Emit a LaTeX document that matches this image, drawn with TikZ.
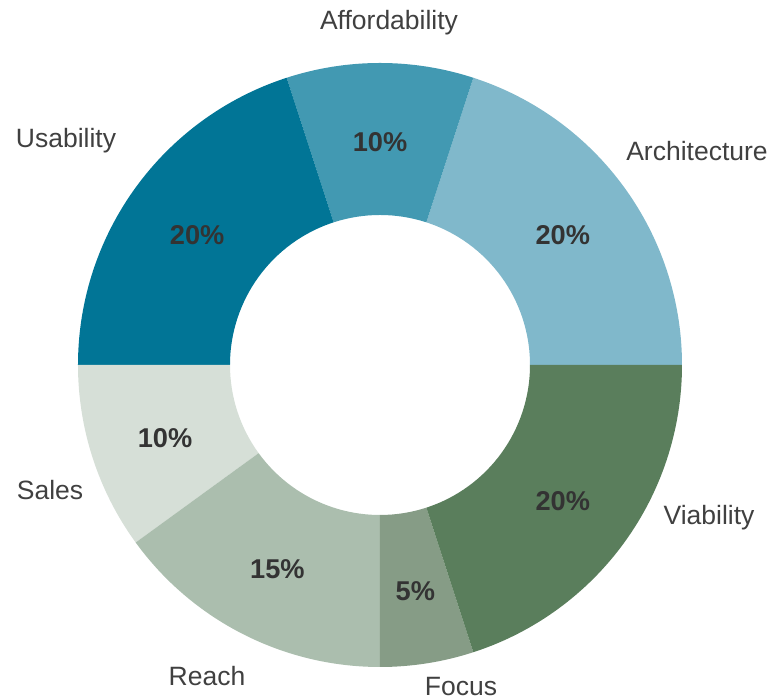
\documentclass[tikz,border=0pt]{standalone}
\usepackage{fontspec}
\setmainfont{Liberation Sans}
\usepackage{tikz}
\definecolor{archi}{HTML}{80B8CB}
\definecolor{afford}{HTML}{4299B2}
\definecolor{usab}{HTML}{017596}
\definecolor{sales}{HTML}{D6DFD7}
\definecolor{reach}{HTML}{ABBEAE}
\definecolor{focus}{HTML}{869C86}
\definecolor{viab}{HTML}{5A7E5C}
\definecolor{txt}{HTML}{404040}
\definecolor{pct}{HTML}{333333}
\tikzstyle{caption} = [text=txt, anchor=base, inner sep=0pt, font=\fontsize{13.25}{16}\selectfont]
\tikzstyle{share} = [text=pct, inner sep=0pt, yshift=-1.5pt, font=\fontsize{13.6}{16}\selectfont\bfseries]

\begin{document}
\begin{tikzpicture}[x=0.5pt, y=0.5pt]
		\useasboundingbox (-380,-334) rectangle (403,365);
		% slices, counter clockwise from the right
		\fill[archi]  (0:150)   arc (0:72:150)    -- (72:302)  arc (72:0:302)    -- cycle;
		\fill[afford] (72:150)  arc (72:108:150)  -- (108:302) arc (108:72:302)  -- cycle;
		\fill[usab]   (108:150) arc (108:180:150) -- (180:302) arc (180:108:302) -- cycle;
		\fill[sales]  (180:150) arc (180:216:150) -- (216:302) arc (216:180:302) -- cycle;
		\fill[reach]  (216:150) arc (216:270:150) -- (270:302) arc (270:216:302) -- cycle;
		\fill[focus]  (270:150) arc (270:288:150) -- (288:302) arc (288:270:302) -- cycle;
		\fill[viab]   (288:150) arc (288:360:150) -- (360:302) arc (360:288:302) -- cycle;
		
		\node[share] (p archi)  at (36:226)  {20\%};
		\node[share] (p afford) at (90:226)  {10\%};
		\node[share] (p usab)   at (144:226) {20\%};
		\node[share] (p sales)  at (198:226) {10\%};
		\node[share] (p reach)  at (243:226) {15\%};
		\node[share] (p focus)  at (279:226) {5\%};
		\node[share] (p viab)   at (324:226) {20\%};
		
		\node[caption] (archi)  at (317,204)   {Architecture};
		\node[caption] (afford) at (9,335)     {Affordability};
		\node[caption] (usab)   at (-314,217)  {Usability};
		\node[caption] (sales)  at (-330,-135) {Sales};
		\node[caption] (reach)  at (-173,-321) {Reach};
		\node[caption] (focus)  at (81,-331)   {Focus};
		\node[caption] (viab)   at (329,-160)  {Viability};
	\end{tikzpicture}
\end{document}
